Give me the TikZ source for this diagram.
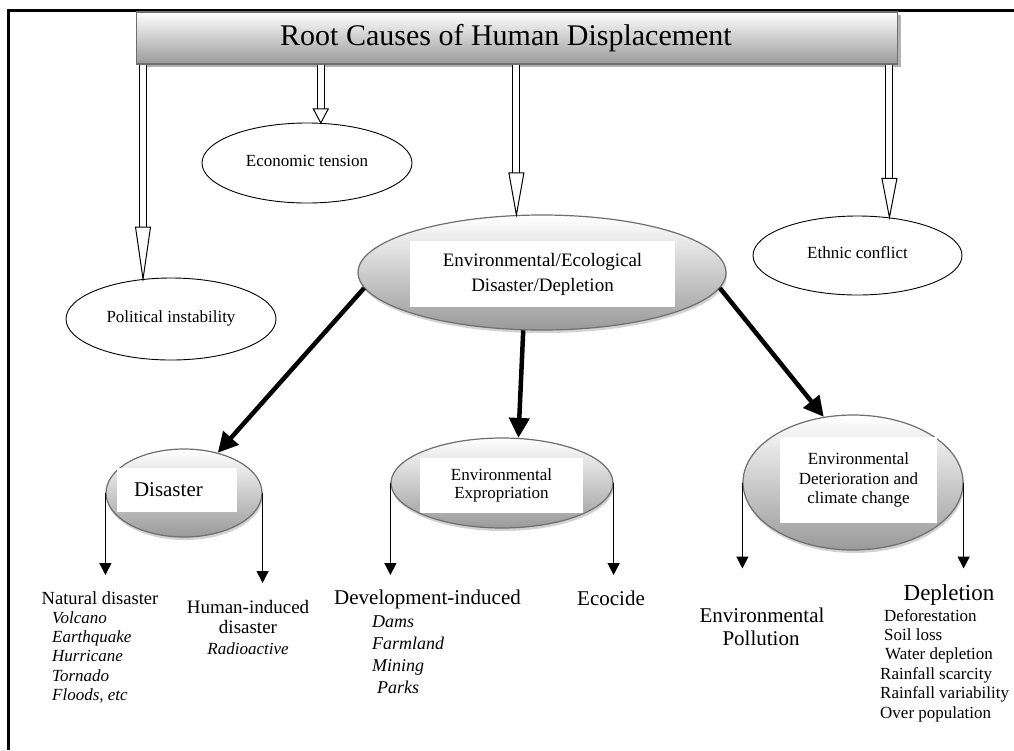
\documentclass[tikz,border=0pt]{standalone}
\usepackage{fontspec}
\setmainfont{Liberation Serif}
\usetikzlibrary{shapes.geometric,shadows,arrows.meta,calc}
\definecolor{RCrand}{HTML}{6E6E6E}
\definecolor{RCgrau}{HTML}{9A9A9A}
\newcommand{\fsz}[2]{\fontsize{#1}{#2}\selectfont}
% hohler Doppelpfeil vom Titelbalken nach unten
\newcommand{\hollowarrow}[2]{%
  \draw[hollowshaft] (title.south -| #1) -- ($(#1)+(0,-#2)$);
  \draw[hollowhead] ($(#1)+(-7.5,-#2)$) -- (#1) -- ($(#1)+(7.5,-#2)$) -- cycle;}

\tikzset{
  titlebox/.style={rectangle, draw=RCrand, line width=1.5pt, top color=white,
    bottom color=RCgrau, minimum width=761pt, minimum height=52pt, inner sep=0pt,
    drop shadow={shadow xshift=3pt, shadow yshift=-3pt, fill=black!30, opacity=1},
    font=\fsz{30}{36}},
  causebox/.style={ellipse, draw, line width=0.9pt, fill=white, inner sep=0pt,
    text height=12pt, text depth=6pt, font=\fsz{17}{20}},
  shadedell/.style={ellipse, draw=RCrand, line width=1.2pt, top color=white,
    bottom color=RCgrau, inner sep=0pt,
    drop shadow={shadow xshift=1pt, shadow yshift=-3pt, fill=black!35}},
  whitelab/.style={rectangle, fill=white, inner sep=0pt, align=center},
  heading/.style={anchor=base, inner sep=0pt},
  item/.style={anchor=base west, inner sep=0pt, font=\itshape\fsz{17}{20}},
  listitem/.style={anchor=base west, inner sep=0pt, font=\fsz{17}{20}},
  thickarrow/.style={line width=4.5pt, -{Triangle[length=20pt,width=20pt]}},
  thinarrow/.style={line width=1.4pt, -{Triangle[length=12pt,width=12pt]}},
  hollowshaft/.style={double, double distance=6pt, line width=1pt},
  hollowhead/.style={fill=white, line width=1pt, line join=miter},
}

\begin{document}
\begin{tikzpicture}[x=1pt,y=-1pt]
  \useasboundingbox (0,0) rectangle (1014,750);

  % Rahmen
  \draw[line width=3pt] (1014,10) -- (8,10) -- (8,750);

  % Titel
  \node[titlebox] (title) at (517,38) {Root Causes of Human Displacement\hspace*{22pt}};

  % Ursachen
  \node[causebox, minimum width=210pt, minimum height=80pt] (econ) at (307,163) {Economic tension};
  \node[causebox, minimum width=210pt, minimum height=82pt] (polit) at (171,319) {Political instability};
  \node[causebox, minimum width=209pt, minimum height=79pt] (ethnic) at (857.5,255.5) {Ethnic conflict};

  \node[shadedell, minimum width=368pt, minimum height=115pt] (envd) at (542,272.5) {};
  \node[whitelab, minimum width=265pt, minimum height=66pt, font=\fsz{19}{25}] (envdlab) at (542.5,274)
    {Environmental/Ecological\\Disaster/Depletion};

  % Pfeile vom Titel
  \hollowarrow{polit.125}{52}
  \hollowarrow{econ.71}{14}
  \hollowarrow{envd.114}{42}
  \hollowarrow{ethnic.50}{39}

  % Unterformen
  \node[shadedell, minimum width=156pt, minimum height=88pt] (dis) at (184,493) {};
  \node[whitelab, minimum width=120pt, minimum height=44pt, text width=86pt, align=left,
    font=\fsz{21}{24}] (dislab) at (177,490) {Disaster};

  \node[shadedell, minimum width=222pt, minimum height=90pt] (expr) at (502,483) {};
  \node[whitelab, minimum width=163pt, minimum height=55pt, font=\fsz{17}{18}] (exprlab) at (501.5,485.5)
    {Environmental\\Expropriation};

  \node[shadedell, minimum width=220pt, minimum height=135pt] (det) at (853,482.5) {};
  \node[whitelab, minimum width=157pt, minimum height=86pt, font=\fsz{17}{19.5}] (detlab) at (858.5,480)
    {Environmental\\Deterioration and\\climate change};

  \draw[thickarrow] (envd.185) -- (dis.50);
  \draw[thickarrow] (envd.252) -- (expr.70);
  \draw[thickarrow] (envd.355) -- (det.114);

  \draw[thinarrow] (dis.west) -- ++(0,82);
  \draw[thinarrow] (dis.east) -- ++(0,90);
  \draw[thinarrow] (expr.west) -- ++(0,92);
  \draw[thinarrow] (expr.east) -- ++(0,92);
  \draw[thinarrow] (det.west) -- ++(0,86);
  \draw[thinarrow] (det.east) -- ++(0,86);

  % Texte unten
  \node[heading, font=\fsz{18.5}{20}] (natural) at (100,604) {Natural disaster};
  \foreach \t [count=\i] in {Volcano, Earthquake, Hurricane, Tornado, {Floods, etc}}
    \node[item] (natural\i) at (52,604+19.25*\i) {\t};

  \node[heading, font=\fsz{19}{20}] (human) at (248,613) {Human-induced};
  \node[heading, font=\fsz{19}{20}] (human2) at (248,633) {disaster};
  \node[heading, font=\itshape\fsz{17}{20}] (human3) at (248,654) {Radioactive};

  \node[heading, font=\fsz{21}{24}] (devel) at (427.5,604) {Development-induced};
  \foreach \t/\dx [count=\i] in {Dams/0, Farmland/0, Mining/0, Parks/5}
    \node[item, font=\itshape\fsz{18}{20}] (devel\i) at (372+\dx,605+22*\i) {\t};

  \node[heading, font=\fsz{21}{24}] (ecocide) at (611,605) {Ecocide};

  \node[heading, font=\fsz{21}{24}] (pollution) at (762,622) {Environmental};
  \node[heading, font=\fsz{21}{24}] (pollution2) at (761,645) {Pollution};

  \node[heading, font=\fsz{23}{26}] (depletion) at (949,600) {Depletion};
  \foreach \t/\x [count=\i] in {Deforestation/884, Soil loss/884, Water depletion/885,
      Rainfall scarcity/880, Rainfall variability/880, Over population/880}
    \node[listitem] (depletion\i) at (\x,601.6+19.4*\i) {\t};

\end{tikzpicture}
\end{document}
